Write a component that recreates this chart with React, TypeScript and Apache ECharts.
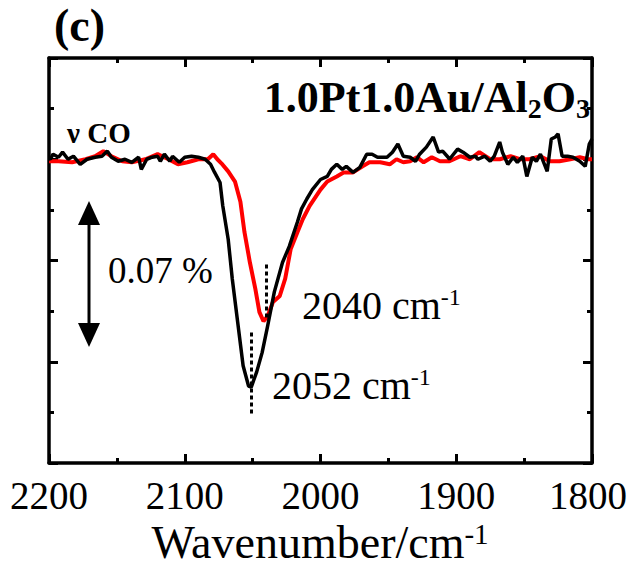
import React, { useEffect, useRef } from "react";
import * as echarts from "echarts";

// Wavenumber (cm-1) and absorbance-like values (arbitrary units; 1 unit = one major y tick)
const blackWn = [2200, 2199, 2197, 2193, 2190, 2186, 2182, 2177, 2172, 2166, 2161, 2157, 2154, 2149, 2144, 2139, 2134, 2132, 2128, 2124, 2120, 2118, 2115, 2111, 2109, 2104, 2100, 2095, 2090, 2085, 2081, 2078, 2074, 2072, 2068, 2065, 2061, 2057, 2053, 2051, 2047, 2043, 2039, 2034, 2028, 2023, 2017, 2014, 2010, 2006, 2000, 1995, 1992, 1988, 1984, 1981, 1976, 1971, 1966, 1962, 1958, 1951, 1947, 1943, 1939, 1934, 1930, 1927, 1922, 1917, 1913, 1910, 1906, 1905, 1899, 1895, 1890, 1886, 1884, 1879, 1875, 1872, 1868, 1866, 1862, 1858, 1855, 1851, 1848, 1844, 1841, 1838, 1833, 1830, 1827, 1825, 1822, 1818, 1814, 1809, 1805, 1802, 1800];
const blackAbs = [0.01, 0.0, 0.05, 0.02, 0.07, 0.0, 0.03, -0.05, 0.0, 0.02, 0.03, 0.08, 0.02, -0.02, 0.0, -0.03, 0.02, -0.1, 0.0, 0.02, 0.03, -0.02, 0.05, -0.02, 0.03, -0.03, 0.02, 0.03, 0.02, 0.0, -0.05, -0.13, -0.23, -0.46, -0.79, -1.18, -1.61, -2.04, -2.24, -2.25, -2.1, -1.91, -1.65, -1.31, -1.02, -0.86, -0.62, -0.49, -0.39, -0.3, -0.2, -0.17, -0.1, -0.05, -0.1, -0.07, -0.13, -0.08, 0.05, 0.05, 0.02, 0.02, 0.07, 0.15, 0.03, 0.02, -0.02, 0.05, 0.12, 0.22, 0.07, 0.08, 0.02, 0.0, 0.1, 0.07, 0.02, 0.03, 0.0, 0.03, -0.02, 0.03, 0.17, 0.07, -0.05, 0.02, -0.03, 0.03, -0.17, 0.02, -0.02, 0.05, -0.12, 0.2, 0.22, 0.25, 0.03, 0.03, 0.02, -0.02, -0.07, 0.15, 0.2];

const redWn = [2200, 2199, 2193, 2183, 2173, 2166, 2160, 2154, 2146, 2139, 2129, 2120, 2112, 2105, 2098, 2090, 2083, 2079, 2076, 2073, 2068, 2063, 2059, 2056, 2052, 2048, 2045, 2042, 2039, 2035, 2030, 2026, 2022, 2017, 2013, 2008, 2000, 1995, 1988, 1983, 1976, 1969, 1964, 1956, 1949, 1944, 1939, 1934, 1929, 1924, 1918, 1912, 1905, 1897, 1890, 1883, 1875, 1868, 1860, 1853, 1846, 1838, 1831, 1824, 1816, 1809, 1803, 1800];
const redAbs = [-0.02, -0.02, -0.02, -0.03, 0.0, 0.03, 0.08, 0.03, -0.02, -0.03, 0.0, 0.05, 0.0, -0.05, -0.03, 0.0, 0.0, 0.05, 0.0, -0.04, -0.12, -0.22, -0.42, -0.72, -1.02, -1.28, -1.51, -1.6, -1.55, -1.41, -1.35, -1.18, -0.89, -0.72, -0.59, -0.46, -0.3, -0.22, -0.17, -0.13, -0.13, -0.07, -0.03, -0.03, -0.05, 0.0, -0.03, -0.02, 0.02, -0.03, 0.02, -0.02, -0.02, 0.03, 0.0, 0.07, 0.0, 0.0, 0.03, 0.0, 0.0, 0.03, -0.02, -0.02, 0.0, 0.02, 0.0, 0.0];

// Peak markers (dotted): [wavenumber, yStart, yEnd]
const redPeakMark = [2040, -1.04, -1.58];
const blackPeakMark = [2051, -1.71, -2.52];

const xTicks = [2200, 2100, 2000, 1900, 1800];

const SERIF = "Liberation Serif";

export default function App() {
  const ref = useRef<HTMLDivElement>(null);
  useEffect(() => {
    if (!ref.current) return;
    const chart = echarts.init(ref.current, undefined, { renderer: "svg" });
    const toPairs = (xs: number[], ys: number[]) => xs.map((x, i) => [x, ys[i]]);
    const axisLine = { show: true, onZero: false, lineStyle: { color: "#000", width: 3.5 } };
    const baseX = {
      type: "value" as const,
      min: 1800,
      max: 2200,
      interval: 100,
      inverse: true,
      splitLine: { show: false },
      axisLine,
      axisTick: { show: true, inside: true, length: 9, lineStyle: { color: "#000", width: 3 } },
      minorTick: { show: true, splitNumber: 2, length: 5, lineStyle: { color: "#000", width: 3 } },
    };
    const baseY = {
      type: "value" as const,
      min: -3,
      max: 1,
      interval: 1,
      splitLine: { show: false },
      axisLine,
      axisLabel: { show: false },
      axisTick: { show: true, inside: true, length: 9, lineStyle: { color: "#000", width: 3 } },
      minorTick: { show: true, splitNumber: 2, length: 5, lineStyle: { color: "#000", width: 3 } },
    };
    chart.setOption({
      animation: false,
      backgroundColor: "#fff",
      grid: { left: 49, right: 36, top: 58, bottom: 103, containLabel: false, outerBoundsMode: "none" },
      xAxis: [
        {
          ...baseX,
          position: "bottom",
          axisLabel: {
            show: true,
            color: "#000",
            fontFamily: SERIF,
            fontSize: 39,
            margin: 13,
            formatter: (v: number) =>
              v === 1800 ? "{r|1800}" : xTicks.includes(v) ? String(v) : "",
            rich: {
              r: { fontFamily: SERIF, fontSize: 39, color: "#000", padding: [0, 8, 0, 0] },
            },
          },
        },
        { ...baseX, position: "top", axisLabel: { show: false } },
      ],
      yAxis: [
        { ...baseY, position: "left" },
        { ...baseY, position: "right" },
      ],
      series: [
        {
          type: "line",
          name: "red",
          data: toPairs(redWn, redAbs),
          symbol: "none",
          lineStyle: { color: "#ff0000", width: 4 },
          z: 2,
          markLine: {
            silent: true,
            symbol: "none",
            label: { show: false },
            lineStyle: { color: "#000", type: [4, 3], width: 3 },
            data: [
              [
                { coord: [redPeakMark[0], redPeakMark[1]] },
                { coord: [redPeakMark[0], redPeakMark[2]] },
              ],
              [
                { coord: [blackPeakMark[0], blackPeakMark[1]] },
                { coord: [blackPeakMark[0], blackPeakMark[2]] },
              ],
            ],
          },
        },
        {
          type: "line",
          name: "black",
          data: toPairs(blackWn, blackAbs),
          symbol: "none",
          lineStyle: { color: "#000", width: 3.5 },
          z: 3,
        },
      ],
      graphic: [
        {
          type: "text",
          x: 320,
          y: 519,
          style: {
            text: "{a|Wavenumber/cm}{b|-1}",
            align: "center",
            verticalAlign: "top",
            rich: {
              a: { fontFamily: SERIF, fontSize: 46, fill: "#000", verticalAlign: "top", lineHeight: 44 },
              b: { fontFamily: SERIF, fontSize: 29, fill: "#000", verticalAlign: "top", lineHeight: 26 },
            },
          },
        },
        {
          type: "text",
          left: 54,
          top: 2,
          style: { text: "(c)", fontFamily: SERIF, fontWeight: "bold", fontSize: 46, fill: "#000" },
        },
        {
          type: "text",
          right: 38,
          top: 75,
          style: {
            text: "{t|1.0Pt1.0Au/Al}{s|2}{t|O}{s|3}",
            rich: {
              t: { fontFamily: SERIF, fontWeight: "bold", fontSize: 44, fill: "#000", verticalAlign: "top", lineHeight: 47 },
              s: { fontFamily: SERIF, fontWeight: "bold", fontSize: 28, fill: "#000", verticalAlign: "bottom", lineHeight: 19 },
            },
          },
        },
        {
          type: "text",
          left: 67,
          top: 118,
          style: { text: "ν CO", fontFamily: SERIF, fontWeight: "bold", fontSize: 29, fill: "#000" },
        },
        {
          type: "text",
          left: 108,
          top: 252,
          style: { text: "0.07 %", fontFamily: SERIF, fontSize: 37, fill: "#000" },
        },
        {
          type: "text",
          left: 302,
          top: 285,
          style: {
            text: "{a|2040 cm}{b|-1}",
            rich: {
              a: { fontFamily: SERIF, fontSize: 40, fill: "#000", verticalAlign: "top", lineHeight: 40 },
              b: { fontFamily: SERIF, fontSize: 24, fill: "#000", verticalAlign: "top", lineHeight: 18 },
            },
          },
        },
        {
          type: "text",
          left: 272,
          top: 365,
          style: {
            text: "{a|2052 cm}{b|-1}",
            rich: {
              a: { fontFamily: SERIF, fontSize: 40, fill: "#000", verticalAlign: "top", lineHeight: 40 },
              b: { fontFamily: SERIF, fontSize: 24, fill: "#000", verticalAlign: "top", lineHeight: 18 },
            },
          },
        },
        {
          type: "line",
          shape: { x1: 89, y1: 222, x2: 89, y2: 326 },
          style: { stroke: "#000", lineWidth: 3 },
        },
        {
          type: "polygon",
          shape: { points: [[78, 225], [100, 225], [89, 201]] },
          style: { fill: "#000" },
        },
        {
          type: "polygon",
          shape: { points: [[78, 323], [100, 323], [89, 347]] },
          style: { fill: "#000" },
        },
      ],
    });
    return () => chart.dispose();
  }, []);
  return (
    <div
      ref={ref}
      style={{ position: "fixed", left: 0, top: 0, width: 628, height: 566, background: "#fff" }}
    />
  );
}
